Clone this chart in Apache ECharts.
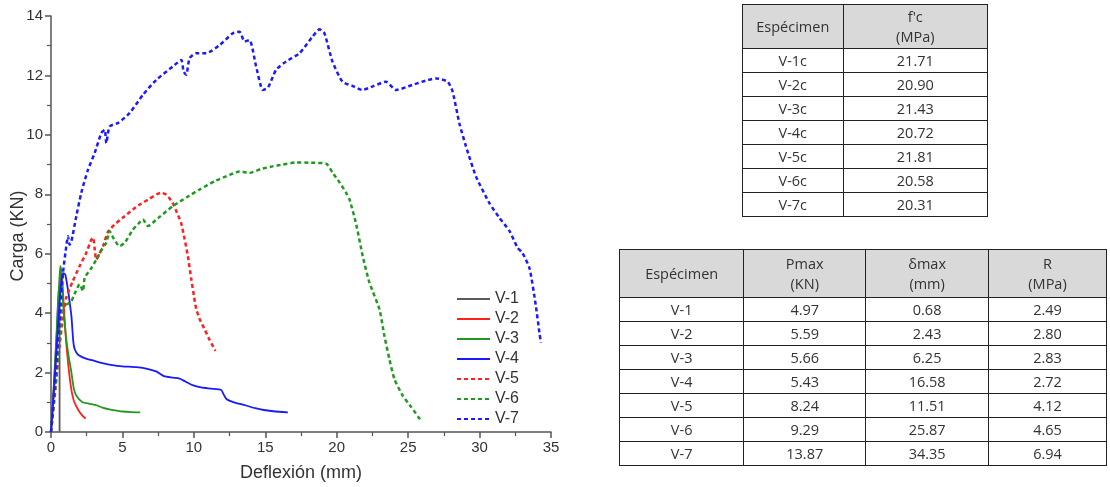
<!DOCTYPE html>
<html>
<head>
<meta charset="utf-8">
<script src="https://cdn.jsdelivr.net/npm/echarts@6/dist/echarts.min.js"></script>
<style>
body { margin:0; background:#fff; }
#main { position:absolute; left:0; top:0; width:1110px; height:487px; }
table { position:absolute; border-collapse:collapse; font-family:"Open Sans", sans-serif; font-size:14.5px; color:#333; }
td, th { border:1px solid #222; text-align:center; padding:0; font-weight:normal; }
th { background:#d9d9d9; line-height:20px; }
#t1 { left:742px; top:4px; width:246px; }
#t2 { left:619px; top:249px; width:488px; }
</style>
</head>
<body>
<div id="main"></div>
<table id="t1"></table>
<table id="t2"></table>
<script>
var names = ['V-1', 'V-2', 'V-3', 'V-4', 'V-5', 'V-6', 'V-7'];
var colors = ['#5a5a5a', '#ff2020', '#1f9a1f', '#1a1aff', '#ff2020', '#1f9a1f', '#1a1aff'];
var dashed = [false, false, false, false, true, true, true];

// deflexion (mm), carga (KN)
var v1 = [[0,0],[0.2,1.6],[0.4,3.4],[0.55,4.9],[0.6,4.6],[0.6,0]];
var v2 = [[0,0],[0.2,1.3],[0.4,2.9],[0.55,4.3],[0.68,5.55],[0.78,5.2],[0.9,4.2],[1.05,3.1],[1.2,2.3],[1.4,1.5],[1.6,1.05],[1.9,0.75],[2.2,0.55],[2.43,0.45]];
var v3 = [[0,0],[0.2,1.5],[0.4,3.3],[0.55,4.8],[0.65,5.6],[0.75,5.0],[0.9,4.0],[1.05,3.2],[1.25,2.5],[1.43,2.0],[1.6,1.45],[1.8,1.2],[2.2,1.0],[2.7,0.95],[3.2,0.9],[3.6,0.82],[4.1,0.76],[4.6,0.72],[5.0,0.69],[5.6,0.67],[6.25,0.66]];
var v4 = [[0,0],[0.2,1.4],[0.4,2.9],[0.6,4.4],[0.75,5.2],[0.88,5.35],[1.0,5.3],[1.15,4.9],[1.3,4.4],[1.43,3.9],[1.55,3.1],[1.65,2.8],[1.9,2.6],[2.4,2.48],[3.0,2.4],[3.6,2.32],[4.3,2.25],[5.0,2.21],[6.0,2.18],[6.8,2.12],[7.4,2.03],[7.9,1.88],[8.5,1.83],[9.0,1.8],[9.4,1.7],[9.9,1.58],[10.5,1.5],[11.2,1.46],[11.9,1.42],[12.1,1.25],[12.3,1.1],[12.8,1.0],[13.6,0.9],[14.3,0.8],[14.9,0.74],[15.7,0.69],[16.58,0.66]];
var v5 = [[0,0],[0.3,1.4],[0.6,2.9],[0.85,3.9],[1.07,4.52],[1.5,5.05],[2.0,5.58],[2.47,6.03],[2.8,6.45],[2.95,6.54],[3.05,6.2],[3.17,5.8],[3.4,6.0],[3.64,6.25],[4.0,6.75],[4.5,7.0],[5.0,7.2],[5.74,7.49],[6.3,7.68],[6.9,7.85],[7.4,8.0],[7.7,8.05],[8.07,7.99],[8.5,7.72],[8.8,7.4],[9.1,7.05],[9.35,6.5],[9.58,5.92],[9.82,5.14],[10.0,4.6],[10.17,4.13],[10.45,3.75],[10.75,3.46],[11.1,3.1],[11.51,2.73]];
var v6 = [[0,0],[0.3,1.5],[0.6,3.2],[0.84,4.35],[1.1,4.3],[1.43,4.41],[1.7,4.7],[2.0,4.97],[2.24,4.74],[2.36,5.19],[2.8,5.5],[3.17,5.8],[3.5,6.1],[3.87,6.37],[4.1,6.76],[4.4,6.5],[4.8,6.25],[5.2,6.4],[5.73,6.81],[6.1,7.0],[6.43,7.15],[6.78,6.93],[7.5,7.2],[8.53,7.6],[9.5,7.9],[10.4,8.16],[11.5,8.45],[12.5,8.65],[13.2,8.77],[13.9,8.72],[14.7,8.85],[15.5,8.94],[16.2,9.0],[17.16,9.07],[18.2,9.06],[19.26,9.03],[19.72,8.72],[20.2,8.4],[20.66,8.05],[20.9,7.82],[21.36,7.0],[21.82,5.92],[22.29,5.03],[22.99,4.13],[23.34,3.23],[23.69,2.45],[24.04,1.78],[24.62,1.22],[25.2,0.85],[25.87,0.4]];
var v7 = [[0,0],[0.2,1.2],[0.4,2.5],[0.6,3.8],[0.84,5.36],[1.07,6.25],[1.19,6.59],[1.3,6.3],[1.43,6.42],[1.77,7.26],[2.12,8.05],[2.59,8.83],[3.06,9.39],[3.52,10.06],[3.76,10.17],[3.87,9.72],[4.1,10.28],[4.69,10.4],[5.5,10.73],[6.44,11.35],[7.37,11.85],[8.53,12.3],[9.12,12.52],[9.28,12.13],[9.47,12.02],[9.7,12.58],[10.17,12.75],[10.87,12.75],[11.8,13.02],[12.73,13.42],[13.2,13.47],[13.55,13.14],[13.9,13.19],[14.36,12.3],[14.83,11.51],[15.2,11.6],[15.76,12.19],[16.46,12.47],[17.4,12.75],[18.3,13.3],[18.8,13.55],[19.14,13.42],[19.7,12.47],[20.4,11.79],[21.1,11.65],[21.8,11.51],[22.6,11.65],[23.45,11.79],[24.15,11.51],[25.3,11.68],[26.2,11.82],[26.95,11.9],[27.76,11.79],[28.11,11.46],[28.58,10.4],[29.05,9.61],[29.75,8.6],[30.68,7.71],[31.4,7.2],[32.1,6.76],[32.66,6.2],[33.0,6.03],[33.5,5.5],[33.94,4.24],[34.2,3.3],[34.3,3.0]];
var curves = [v1, v2, v3, v4, v5, v6, v7];

// tablas
var fcHead = ['Espécimen', "f'c<br>(MPa)"];
var fcSpec = ['V-1c', 'V-2c', 'V-3c', 'V-4c', 'V-5c', 'V-6c', 'V-7c'];
var fcVals = ['21.71', '20.90', '21.43', '20.72', '21.81', '20.58', '20.31'];
var resHead = ['Espécimen', 'Pmax<br>(KN)', 'δmax<br>(mm)', 'R<br>(MPa)'];
var pmax = ['4.97', '5.59', '5.66', '5.43', '8.24', '9.29', '13.87'];
var dmax = ['0.68', '2.43', '6.25', '16.58', '11.51', '25.87', '34.35'];
var rVals = ['2.49', '2.80', '2.83', '2.72', '4.12', '4.65', '6.94'];

function fillTable(id, head, cols, widths, headH, rowH) {
	var html = '<tr style="height:' + headH + 'px">';
	for (var i = 0; i < head.length; i++) {
		html += '<th style="width:' + widths[i] + 'px">' + head[i] + '</th>';
	}
	html += '</tr>';
	for (var r = 0; r < cols[0].length; r++) {
		html += '<tr style="height:' + rowH + 'px">';
		for (var c = 0; c < cols.length; c++) {
			html += '<td>' + cols[c][r] + '</td>';
		}
		html += '</tr>';
	}
	document.getElementById(id).innerHTML = html;
}
fillTable('t1', fcHead, [fcSpec, fcVals], [100, 145], 44, 24);
fillTable('t2', resHead, [names, pmax, dmax, rVals], [124, 122, 123, 118], 48, 24);

var chart = echarts.init(document.getElementById('main'));
var series = [];
for (var i = 0; i < names.length; i++) {
	series.push({
		name : names[i],
		type : 'line',
		data : curves[i],
		symbol : 'none',
		smooth : 0.2,
		color : colors[i],
		lineStyle : {
			color : colors[i],
			width : dashed[i] ? 2.5 : 1.8,
			type : dashed[i] ? [4, 3] : 'solid'
		}
	});
}
var axisFont = { fontFamily : 'Liberation Sans', fontSize : 15, color : '#333' };
var nameFont = { fontFamily : 'Liberation Sans', fontSize : 18, color : '#333' };
chart.setOption({
	animation : false,
	textStyle : { fontFamily : 'Liberation Sans' },
	grid : { left : 51, top : 16, width : 500, height : 417 },
	legend : {
		data : names,
		orient : 'vertical',
		left : 451,
		top : 286,
		itemWidth : 33,
		itemHeight : 14,
		itemGap : 4,
		itemStyle : { opacity : 0 },
		textStyle : { fontFamily : 'Liberation Sans', fontSize : 16, color : '#333' }
	},
	xAxis : {
		type : 'value',
		min : 0, max : 35, interval : 5,
		name : 'Deflexión (mm)',
		nameLocation : 'middle',
		nameGap : 32,
		nameTextStyle : nameFont,
		axisLine : { lineStyle : { color : '#555', width : 1.5 } },
		axisTick : { length : 6, lineStyle : { color : '#555', width : 1.5 } },
		minorTick : { show : true, splitNumber : 2, length : 4, lineStyle : { color : '#555', width : 1.2 } },
		axisLabel : axisFont,
		splitLine : { show : false }
	},
	yAxis : {
		type : 'value',
		min : 0, max : 14, interval : 2,
		name : 'Carga (KN)',
		nameLocation : 'middle',
		nameGap : 24,
		nameMoveOverlap : false,
		nameTextStyle : {
			fontFamily : 'Liberation Sans', fontSize : 18, color : '#333',
			padding : [0, 24, 0, 0]
		},
		axisLine : { show : true, lineStyle : { color : '#555', width : 1.5 } },
		axisTick : { show : true, length : 6, lineStyle : { color : '#555', width : 1.5 } },
		minorTick : { show : true, splitNumber : 2, length : 4, lineStyle : { color : '#555', width : 1.2 } },
		axisLabel : axisFont,
		splitLine : { show : false }
	},
	series : series
});
</script>
</body>
</html>
